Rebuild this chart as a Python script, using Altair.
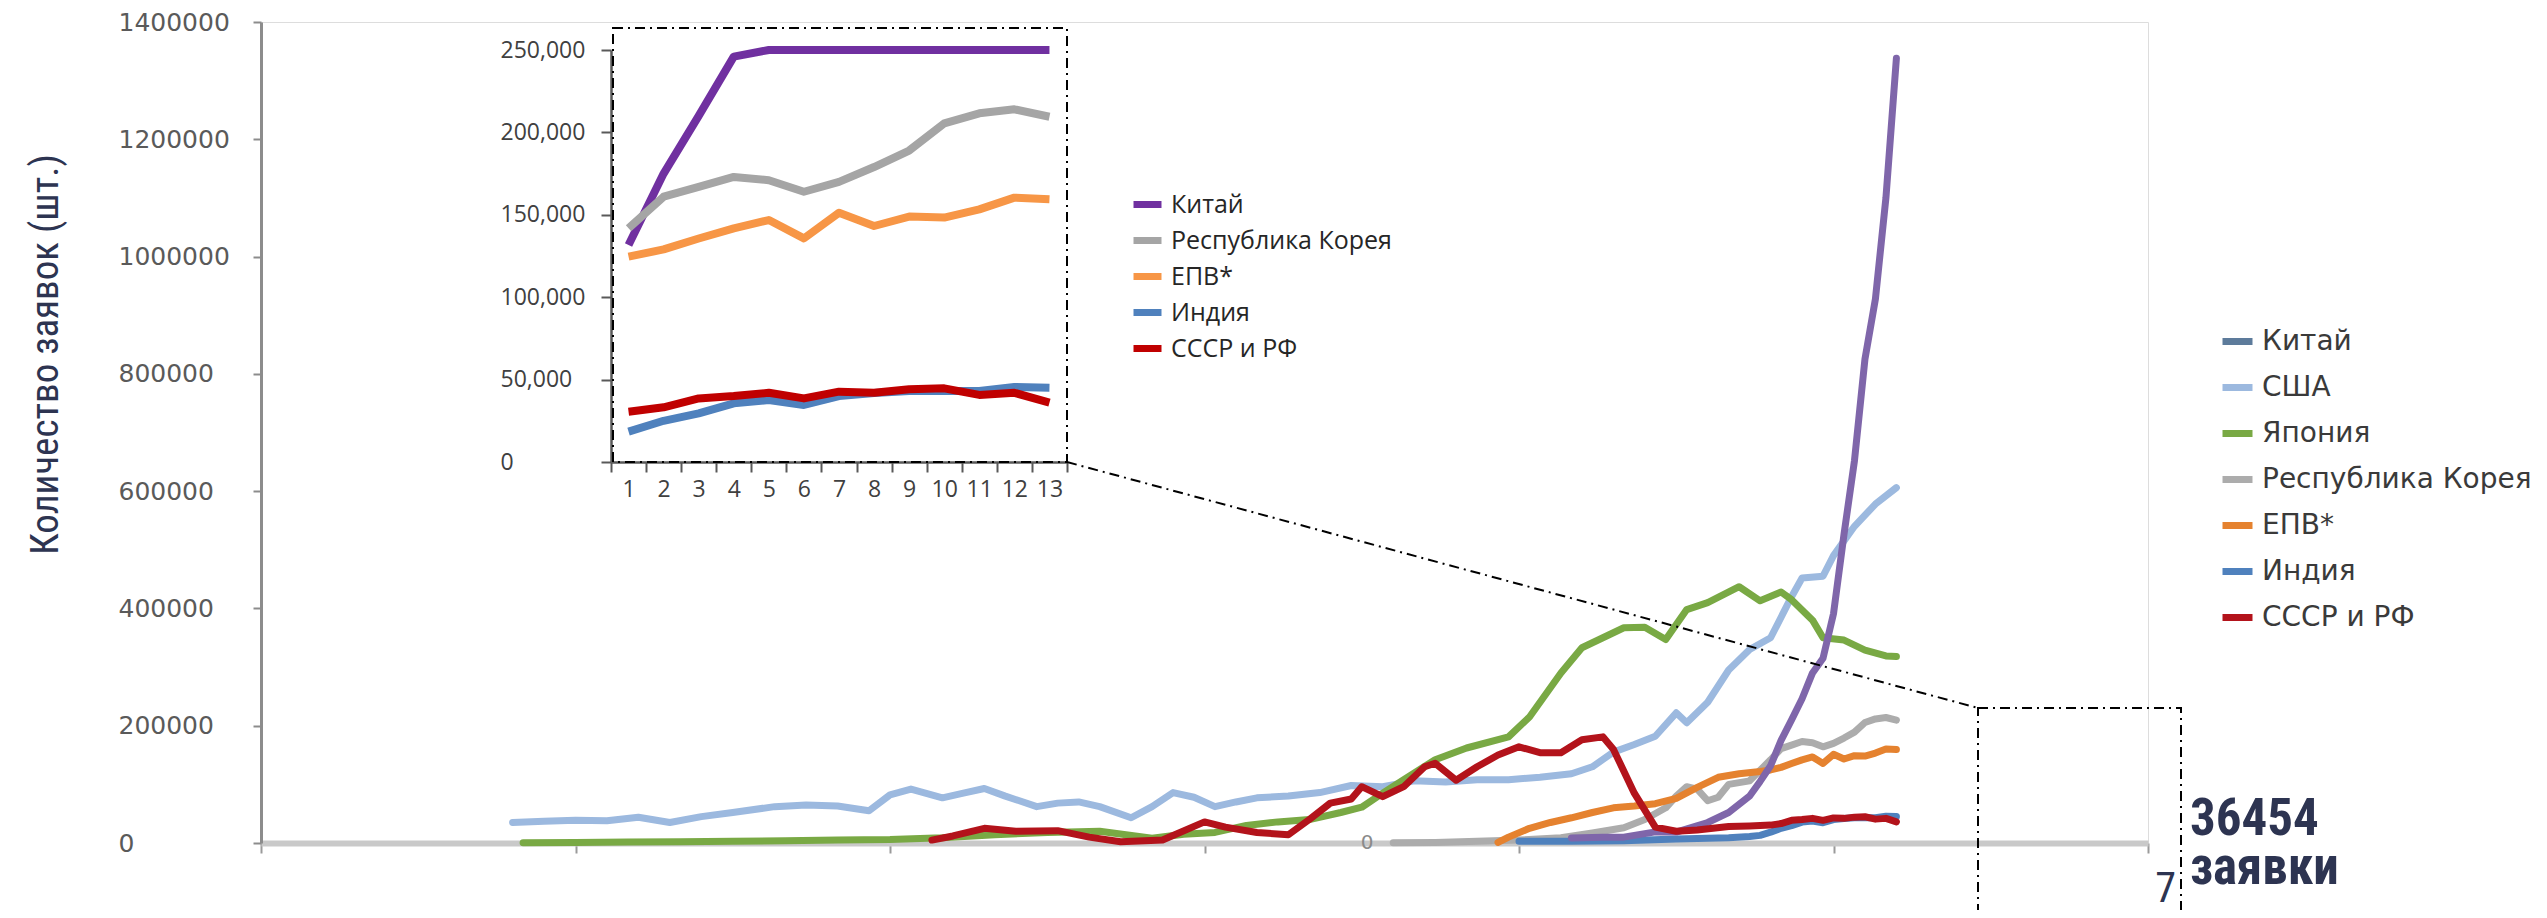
import altair as alt
import pandas as pd

# ------------------------------------------------------------------ data
# main chart (years, applications)
usa_years = [1884, 1887, 1890, 1893, 1896, 1899, 1902, 1905, 1909, 1912, 1915, 1918, 1920, 1922,
             1925, 1927, 1929, 1931, 1934, 1936, 1938, 1940, 1943, 1945, 1947, 1949, 1951, 1953,
             1955, 1958, 1961, 1964, 1967, 1970, 1973, 1976, 1979, 1982, 1985, 1987, 1989, 1991,
             1993, 1995, 1996, 1998, 2000, 2002, 2004, 2006, 2007, 2009, 2010, 2012, 2014, 2016]
usa_values = [35000, 37000, 39000, 38000, 44000, 35000, 45000, 52000, 62000, 65000, 63000, 55000,
              82000, 92000, 77000, 85000, 93000, 80000, 62000, 68000, 70000, 62000, 43000, 62000,
              86000, 78000, 62000, 70000, 77000, 80000, 86000, 98000, 96000, 106000, 104000,
              108000, 108000, 112000, 118000, 130000, 155000, 168000, 182000, 222000, 205000,
              240000, 295000, 330000, 350000, 420000, 452000, 455000, 490000, 540000, 578000,
              606000]

japan_years = [1885, 1890, 1895, 1900, 1905, 1910, 1915, 1920, 1925, 1930, 1935, 1940, 1945, 1948,
               1951, 1954, 1957, 1960, 1963, 1965, 1967, 1969, 1972, 1975, 1979, 1981, 1984, 1986,
               1988, 1990, 1992, 1994, 1996, 1998, 2001, 2003, 2005, 2006, 2008, 2009, 2011, 2013,
               2015, 2016]
japan_values = [500, 1000, 1500, 2000, 3000, 4000, 5000, 6000, 9000, 14000, 18000, 20000, 8000,
                15000, 18000, 30000, 36000, 40000, 52000, 61000, 85000, 108000, 142000, 162000,
                181000, 215000, 290000, 333000, 350000, 367000, 368000, 347000, 398000, 410000,
                437000, 413000, 428000, 415000, 380000, 350000, 346000, 329000, 319000, 318000]

recent_years = [2004, 2005, 2006, 2007, 2008, 2009, 2010, 2011, 2012, 2013, 2014, 2015, 2016]

rf_early_years = [1924, 1926, 1929, 1932, 1936, 1939, 1942, 1946, 1950, 1952, 1955, 1958, 1960,
                  1962, 1964, 1965, 1967, 1969, 1971, 1972, 1974, 1976, 1978, 1980, 1982, 1984,
                  1986, 1988, 1989, 1991, 1993, 1995, 1997, 2000, 2002]
rf_early_values = [5000, 12000, 25000, 20000, 21000, 10000, 2000, 5000, 36000, 27000, 18000,
                   14000, 40000, 68000, 75000, 96000, 79000, 96000, 130000, 136000, 107000,
                   130000, 150000, 164000, 154000, 154000, 176000, 181000, 160000, 85000, 27000,
                   20000, 22000, 28000, 29000]

korea_early_years = [1968, 1972, 1976, 1980, 1984, 1987, 1990, 1992, 1994, 1995, 1996, 1997, 1998,
                     1999, 2000, 2002]
korea_early_values = [500, 1000, 3000, 5000, 9000, 17000, 26000, 40000, 60000, 80000, 96000,
                      92000, 72000, 78000, 100000, 106000]

epo_early_years = [1978, 1979, 1981, 1983, 1985, 1987, 1989, 1991, 1993, 1995, 1997, 1999, 2001,
                   2003]
epo_early_values = [1000, 10000, 25000, 35000, 43000, 52000, 60000, 63000, 67000, 76000, 95000,
                    112000, 118000, 122000]

india_early_years = [1980, 1985, 1990, 1995, 2000, 2002, 2003]
india_early_values = [3000, 3000, 4000, 7000, 9000, 11000, 13000]

china_early_years = [1985, 1988, 1990, 1993, 1995, 1998, 2000, 2002, 2003]
china_early_values = [8600, 10000, 10000, 19000, 18700, 35000, 52000, 80000, 105000]
china_recent_values = [131700, 175000, 210000, 246000, 290000, 315000, 391000, 526000, 652000,
                       825000, 928000, 1100000, 1338000]

# inset (13 points)
inset_index = [1, 2, 3, 4, 5, 6, 7, 8, 9, 10, 11, 12, 13]
inset_china = [131700, 175000, 210000, 246000, 250000, 250000, 250000, 250000, 250000, 250000,
               250000, 250000, 250000]
inset_korea = [141900, 161000, 167000, 173000, 171000, 164000, 170000, 179000, 189000, 205500,
               211600, 214000, 209500]
inset_epo = [124600, 129000, 135600, 141800, 146800, 135700, 151300, 143200, 148900, 148300,
             153300, 160400, 159400]
inset_india = [18400, 25000, 29500, 35600, 37600, 34600, 40000, 41900, 43100, 43100, 43100,
               45500, 45000]
inset_rf = [30500, 33200, 38600, 40000, 42000, 38600, 42700, 42000, 44100, 44700, 40700, 42000,
            36000]

main_names = ["Китай", "США", "Япония", "Республика Корея", "ЕПВ*", "Индия", "СССР и РФ"]
main_colors = ["#5d7b9b", "#9cb9df", "#79a944", "#acacac", "#e5822f", "#4f81bd", "#b3131b"]
china_line_color = "#7f66aa"

inset_names = ["Китай", "Республика Корея", "ЕПВ*", "Индия", "СССР и РФ"]
inset_colors = ["#7030a0", "#a5a5a5", "#f79646", "#4f81bd", "#c00000"]

main_y_ticks = [0, 200000, 400000, 600000, 800000, 1000000, 1200000, 1400000]
main_x_ticks = [1860, 1890, 1920, 1950, 1980, 2010, 2040]
inset_y_ticks = [0, 50000, 100000, 150000, 200000, 250000]
inset_x_edges = [0.5, 1.5, 2.5, 3.5, 4.5, 5.5, 6.5, 7.5, 8.5, 9.5, 10.5, 11.5, 12.5, 13.5]

zero_label_years = [1965.5]
zero_label_values = [0]

# ------------------------------------------------------------------ tables
main_series = {
    "США": (usa_years, usa_values),
    "Япония": (japan_years, japan_values),
    "Республика Корея": (korea_early_years + recent_years, korea_early_values + inset_korea),
    "ЕПВ*": (epo_early_years + recent_years, epo_early_values + inset_epo),
    "Индия": (india_early_years + recent_years, india_early_values + inset_india),
    "Китай": (china_early_years + recent_years, china_early_values + china_recent_values),
    "СССР и РФ": (rf_early_years + recent_years, rf_early_values + inset_rf),
}
rows = []
for name, (ys, vs) in main_series.items():
    for yv, vv in zip(ys, vs):
        rows.append({"series": name, "year": yv, "value": vv})
main_df = pd.DataFrame(rows)

inset_series = {"Китай": inset_china, "Республика Корея": inset_korea, "ЕПВ*": inset_epo,
                "Индия": inset_india, "СССР и РФ": inset_rf}
irows = []
for name, vs in inset_series.items():
    for i, vv in zip(inset_index, vs):
        irows.append({"series": name, "idx": i, "value": vv})
inset_df = pd.DataFrame(irows)

# ------------------------------------------------------------------ geometry
W, H = 1887, 821
NAVY = "#2d3451"
COND = "Roboto Condensed, Liberation Sans Narrow, DejaVu Sans Condensed, sans-serif"
DASH = [10, 5, 2, 5]

main_x_axis = alt.Axis(orient="bottom", values=main_x_ticks, labels=False, tickSize=10,
                       tickColor="#9a9a9a", tickWidth=2, domainColor="#c9c9c9", domainWidth=6,
                       grid=False, title=None)
main_y_axis = alt.Axis(orient="left", values=main_y_ticks, format="d", labelAlign="left",
                       labelPadding=135, tickSize=8, labelFont="DejaVu Sans", labelFontSize=25,
                       labelColor="#5a5a5a", labelBaseline="middle", labelOverlap=False,
                       domainColor="#8c8c8c", domainWidth=3, tickColor="#8c8c8c", tickWidth=2,
                       grid=False, title="Количество заявок (шт.)", titleFont=COND,
                       titleFontSize=39, titleFontWeight="normal", titleColor=NAVY,
                       titleX=-216, titleY=332, titleAngle=270, titleAlign="center",
                       titleBaseline="middle")
main_legend = alt.Legend(title=None, orient="none", legendX=1958, legendY=301, padding=0,
                         symbolType="stroke", symbolStrokeWidth=7, symbolSize=900,
                         labelFont="DejaVu Sans", labelFontSize=28, labelColor="#3a3a3a",
                         labelOffset=6, rowPadding=13, labelLimit=500)

x_main = alt.X("year:Q", scale=alt.Scale(domain=[1860, 2040], nice=False, zero=False),
               axis=main_x_axis)
y_main = alt.Y("value:Q", scale=alt.Scale(domain=[0, 1400000], nice=False), axis=main_y_axis)
color_main = alt.Color("series:N", scale=alt.Scale(domain=main_names, range=main_colors),
                       legend=main_legend)

draw_order = ["США", "Япония", "Республика Корея", "ЕПВ*", "Индия", "Китай", "СССР и РФ"]
main_layers = []
for name in draw_order:
    col = alt.value(china_line_color) if name == "Китай" else color_main
    main_layers.append(
        alt.Chart(main_df).transform_filter(alt.datum.series == name)
        .mark_line(strokeWidth=7, strokeJoin="round", strokeCap="round")
        .encode(x=x_main, y=y_main, color=col)
    )
zero_df = pd.DataFrame({"year": zero_label_years, "value": zero_label_values})
main_layers.append(
    alt.Chart(zero_df).mark_text(text="0", font="DejaVu Sans", fontSize=20, color="#8a8a8a",
                                 baseline="middle", align="center")
    .encode(x=x_main, y=y_main)
)
main_layer = alt.layer(*main_layers)

# inset
inset_y_axis = alt.Axis(orient="left", offset=-350, values=inset_y_ticks, format=",d",
                        labelAlign="left", labelPadding=101, tickSize=10, labelFont="Open Sans",
                        labelFontSize=23, labelColor="#404040", labelBaseline="middle",
                        labelOverlap=False, domainColor="#595959", domainWidth=2.5,
                        tickColor="#595959", tickWidth=2, grid=False, title=None)
inset_x_axis = alt.Axis(orient="bottom", offset=-381, values=inset_x_edges,
                        labelExpr="datum.value < 13 ? format(datum.value + 0.5, 'd') : ''",
                        labelOffset=17.5, labelFlush=False, labelOverlap=False, tickSize=10,
                        labelPadding=6, labelFont="Open Sans", labelFontSize=23,
                        labelColor="#404040", domainColor="#595959", domainWidth=2.5,
                        tickColor="#595959", tickWidth=2, grid=False, title=None)
inset_legend = alt.Legend(title=None, orient="none", legendX=869, legendY=165, padding=0,
                          symbolType="stroke", symbolStrokeWidth=7, symbolSize=784,
                          labelFont="Open Sans", labelFontSize=25, labelColor="#262626",
                          labelOffset=6, rowPadding=4, labelLimit=500)
x_in = alt.X("idx:Q", scale=alt.Scale(domain=[0.5, 13.5], range=[350, 806], nice=False,
                                      zero=False), axis=inset_x_axis)
y_in = alt.Y("value:Q", scale=alt.Scale(domain=[0, 250000], range=[440, 28], nice=False),
             axis=inset_y_axis)
color_in = alt.Color("series:N", scale=alt.Scale(domain=inset_names, range=inset_colors),
                     legend=inset_legend)
inset_layers = []
for name in inset_names:
    inset_layers.append(
        alt.Chart(inset_df).transform_filter(alt.datum.series == name)
        .mark_line(strokeWidth=8, strokeJoin="round")
        .encode(x=x_in, y=y_in, color=color_in)
    )
inset_layer = alt.layer(*inset_layers)

# decorations
deco_df = pd.DataFrame({"k": [0]})
inset_box = alt.Chart(deco_df).mark_rect(fillOpacity=0, stroke="black", strokeWidth=2,
                                          strokeDash=DASH).encode(
    x=alt.value(352), x2=alt.value(806), y=alt.value(6), y2=alt.value(440))
connector = alt.Chart(deco_df).mark_rule(stroke="black", strokeWidth=2, strokeDash=DASH).encode(
    x=alt.value(806), y=alt.value(440), x2=alt.value(1717), y2=alt.value(686))
small_box = alt.Chart(deco_df).mark_rect(fillOpacity=0, stroke="black", strokeWidth=2,
                                          strokeDash=DASH).encode(
    x=alt.value(1717), x2=alt.value(1920), y=alt.value(686), y2=alt.value(960))
txt_num = alt.Chart(deco_df).mark_text(text="36454", font=COND, fontSize=51, fontWeight="bold",
                                       color=NAVY, align="left", baseline="alphabetic").encode(
    x=alt.value(1929), y=alt.value(813))
txt_word = alt.Chart(deco_df).mark_text(text="заявки", font=COND, fontSize=51, fontWeight="bold",
                                        color=NAVY, align="left", baseline="alphabetic").encode(
    x=alt.value(1929), y=alt.value(862))
txt_page = alt.Chart(deco_df).mark_text(text="7", font=COND, fontSize=42, color=NAVY,
                                        align="right", baseline="alphabetic").encode(
    x=alt.value(1915), y=alt.value(880))

chart = alt.layer(main_layer, inset_layer, inset_box, connector, small_box, txt_num, txt_word,
                  txt_page).resolve_scale(
    x="independent", y="independent", color="independent"
).properties(
    width=W, height=H,
    autosize=alt.AutoSizeParams(type="none"),
    padding={"left": 253, "top": 14, "right": 391, "bottom": 67},
).configure_view(stroke=None).configure(background="white")

chart.save("out.html", embed_options={"renderer": "svg", "actions": False})
